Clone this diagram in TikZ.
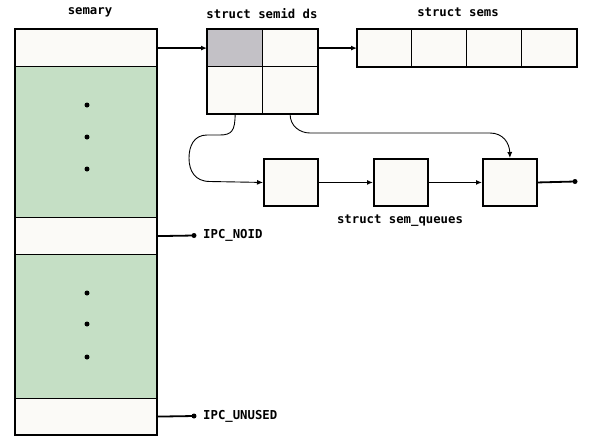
\documentclass[tikz,border=0pt]{standalone}
\usepackage{fontspec}
\setmonofont{DejaVu Sans Mono}
\usetikzlibrary{arrows.meta,positioning}
\definecolor{cellwhite}{HTML}{FBFAF7}
\definecolor{cellgreen}{HTML}{C5DFC5}
\definecolor{cellgray}{HTML}{C3C1C6}

\begin{document}
\begin{tikzpicture}[x=1pt, y=-1pt,
    cell/.style={draw, line width=1.2pt, fill=cellwhite, inner sep=0pt, anchor=north west},
    qbox/.style={cell, line width=1.9pt, minimum width=54pt, minimum height=47pt},
    lbl/.style={font=\fontsize{12.3}{14}\selectfont\ttfamily\bfseries, inner sep=0pt},
    link/.style={line width=1.8pt, -{Latex[length=6pt,width=5pt]}},
    wire/.style={line width=0.9pt, -{Latex[length=6pt,width=5pt]}},
    dot/.style={circle, fill=black, inner sep=0pt, minimum size=5pt}]
            \useasboundingbox (0,0) rectangle (597,445);
            %\draw (0,0) rectangle (597,445);

            % semary
            \node[cell, minimum width=141pt, minimum height=37pt] (sa0) at (15,29) {};
            \node[cell, fill=cellgreen, minimum width=141pt, minimum height=151pt] (sa1) at (15,66) {};
            \node[cell, minimum width=141pt, minimum height=37pt] (sa2) at (15,217) {};
            \node[cell, fill=cellgreen, minimum width=141pt, minimum height=144pt] (sa3) at (15,254) {};
            \node[cell, minimum width=141pt, minimum height=36pt] (sa4) at (15,398) {};
            \draw[line width=2.4pt] (sa0.north west) rectangle (sa4.south east);
            \foreach \y in {105,137,169,293,324,357}
                \node[dot] at (87,\y) {};

            % struct semid ds
            \node[cell, fill=cellgray, minimum width=55pt, minimum height=37pt] (sd00) at (207,29) {};
            \node[cell, minimum width=55pt, minimum height=37pt] (sd01) at (262,29) {};
            \node[cell, minimum width=55pt, minimum height=47pt] (sd10) at (207,66) {};
            \node[cell, minimum width=55pt, minimum height=47pt] (sd11) at (262,66) {};
            \draw[line width=2.4pt] (sd00.north west) rectangle (sd11.south east);

            % struct sems
            \foreach \i/\x in {0/357,1/411,2/466,3/521}
                \node[cell, minimum width=55pt, minimum height=37pt] (sm\i) at (\x,29) {};
            \draw[line width=2.4pt] (sm0.north west) rectangle (sm3.south east);

            % struct sem_queues
            \node[qbox] (q1) at (263,158) {};
            \node[qbox] (q2) at (373,158) {};
            \node[qbox] (q3) at (482,158) {};
            \coordinate (qend) at (575,181.5);
            \node[dot] at (qend) {};

            \coordinate (noid) at (194,235.5);
            \coordinate (unused) at (194,416);
            \node[dot] at (noid) {};
            \node[dot] at (unused) {};

            % labels
            \node[lbl] (tsemary) at (90,12.5) {semary};
            \node[lbl] (tsemid) at (262,13.5) {struct semid ds};
            \node[lbl] (tsems) at (458,12.5) {struct sems};
            \node[lbl] (tqueues) at (400,221) {struct sem\_queues};
            \node[lbl, anchor=west, right=9pt of noid] (tnoid) {IPC\_NOID};
            \node[lbl, anchor=west, right=9pt of unused] (tunused) {IPC\_UNUSED};

            % connectors
            \draw[link] (sa0.east) -- (sd00.west);
            \draw[link] (sd01.east) -- (sm0.west);
            \draw[link] (q1.east) -- (q2.west);
            \draw[link] (q2.east) -- (q3.west);
            \draw[line width=1.8pt] (q3.east) -- (qend);
            \draw[line width=1.8pt] (sa2.east) -- (noid);
            \draw[line width=1.8pt] (sa4.east) -- (unused);
            \draw[wire] (sd10.south) .. controls +(0,16) and +(12,0) .. (220,135)
                -- (207,135) .. controls (194,135) and (189,146) .. (189,158)
                .. controls (189,171) and (195,181.5) .. (210,181.5) -- (q1.west);
            \draw[wire] (sd11.south) .. controls +(0,12) and +(-10,0) .. (310,133)
                -- (490,133) .. controls (503,133) and (509.5,143) .. (q3.north);
\end{tikzpicture}
\end{document}
